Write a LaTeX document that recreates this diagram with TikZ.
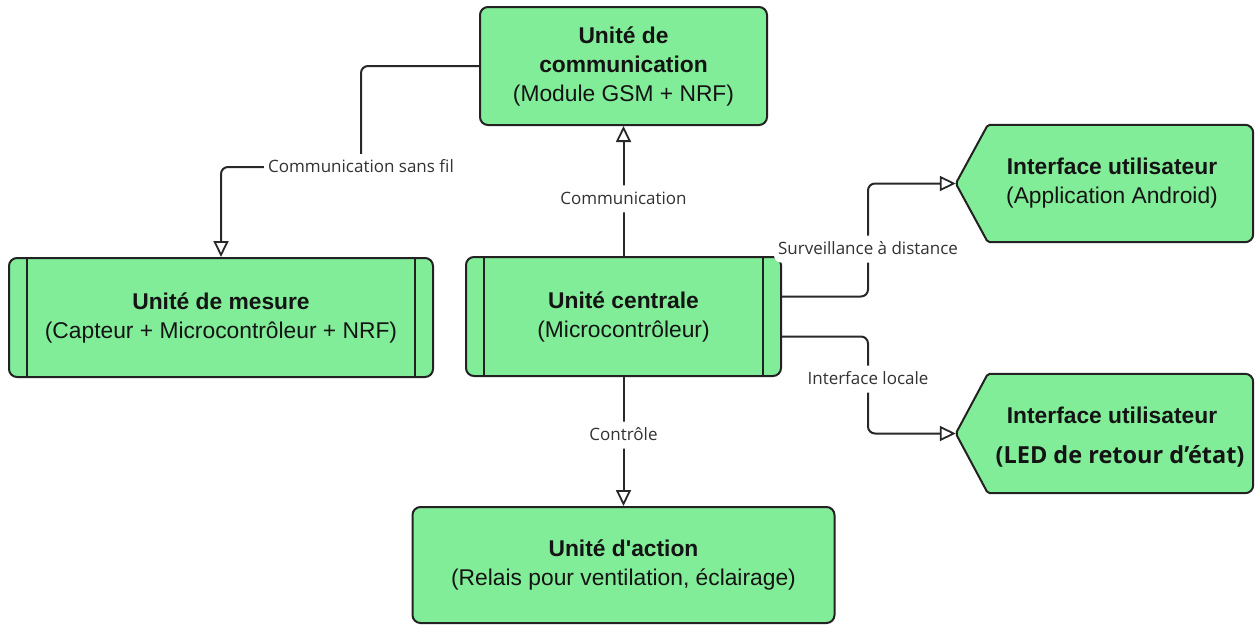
\documentclass[tikz,border=0pt]{standalone}
\usepackage{fontspec}
\setmainfont{Liberation Sans}
\newfontfamily\lblfont{Open Sans}
\newfontfamily\ledfont{Open Sans}
\usetikzlibrary{arrows.meta}

\definecolor{boxgreen}{RGB}{130,237,152}
\definecolor{edgeink}{RGB}{34,34,34}
\definecolor{wireink}{RGB}{40,40,40}
\definecolor{lblink}{RGB}{50,50,50}

\begin{document}
\begin{tikzpicture}[x=1pt,y=-1pt,
  unitbox/.style={draw=edgeink, line width=2pt, fill=boxgreen, rounded corners=8pt,
    align=center, font=\fontsize{22.8}{29}\selectfont, text=black!92, inner sep=0pt},
  ifaceframe/.style={draw=none, inner sep=0pt, minimum width=297pt},
  ifacetext/.style={align=center, font=\fontsize{22.8}{29}\selectfont,
    text=black!92, inner sep=0pt},
  ifaceshape/.style={draw=edgeink, line width=2pt, fill=boxgreen, line join=round},
  sidebar/.style={draw=edgeink, line width=1.6pt},
  wire/.style={draw=wireink, line width=2pt, rounded corners=7pt,
    -{Triangle[open, length=16pt, width=15pt, line width=1.8pt]}},
  plainwire/.style={draw=wireink, line width=2pt, rounded corners=7pt},
  lbl/.style={fill=white, font=\lblfont\fontsize{17}{20}\selectfont, text=lblink,
    inner xsep=4pt, inner ysep=7pt, text height=12pt, text depth=1pt}
]
\useasboundingbox (0,0) rectangle (1255,625);

% units
\node[unitbox, minimum width=287pt, minimum height=118pt] (comm) at (623.5,66)
  {\textbf{Unité de}\\\textbf{communication}\\(Module GSM + NRF)};
\node[unitbox, minimum width=424pt, minimum height=119pt] (mes) at (221,317.5)
  {\textbf{Unité de mesure}\\(Capteur + Microcontrôleur + NRF)};
\node[unitbox, minimum width=315pt, minimum height=119pt] (uc) at (623.5,316.5)
  {\textbf{Unité centrale}\\(Microcontrôleur)};
\node[unitbox, minimum width=422pt, minimum height=116pt] (act) at (623.5,565)
  {\textbf{Unité d\textquotesingle action}\\(Relais pour ventilation, éclairage)};

% side bars of the process boxes
\foreach \n in {mes,uc}{
  \draw[sidebar] ([xshift=19pt]\n.north west) -- ([xshift=19pt]\n.south west);
  \draw[sidebar] ([xshift=-19pt]\n.north east) -- ([xshift=-19pt]\n.south east);
}

% user interfaces (display shapes)
\node[ifaceframe, minimum height=117pt] (ui1) at (1104.5,183.5) {};
\node[ifaceframe, minimum height=119pt] (ui2) at (1104.5,433.5) {};
\foreach \n in {ui1,ui2}{
  \path[ifaceshape] (\n.west) [rounded corners=2pt] -- ([xshift=32pt]\n.north west)
    [rounded corners=8pt] -- (\n.north east) -- (\n.south east)
    [rounded corners=2pt] -- ([xshift=32pt]\n.south west) -- cycle;
}
\node[ifacetext] (ui1t) at ([xshift=7.5pt]ui1.center)
  {\textbf{Interface utilisateur}\\(Application Android)};
\node[ifacetext] (ui2t) at ([xshift=0pt,yshift=-4pt]ui2.center)
  {\hspace*{15pt}\textbf{Interface utilisateur}\\[11pt]\hspace*{31pt}{\ledfont\bfseries\fontsize{23.5}{29}\selectfont(LED de retour d’état)}};

% connectors
\coordinate (wbend) at (361,167);
\draw[plainwire] (comm.west) -| (wbend);
\draw[wire] (wbend) -| (mes.north);
\node[lbl] (lwl) at (wbend) {Communication sans fil};

\draw[wire] (uc.north) -- node[lbl, pos=0.44] (lcom) {Communication} (comm.south);
\draw[wire] (uc.south) -- node[lbl, pos=0.45] (lctl) {Contrôle} (act.north);

\draw[wire] ([yshift=20pt]uc.east) -- ++(86pt,0)
  |- node[lbl, pos=0.21] (lsur) {Surveillance à distance} (ui1.west);
\draw[wire] ([yshift=-20pt]uc.east) -- ++(86pt,0)
  |- node[lbl, pos=0.22] (lloc) {Interface locale} (ui2.west);
\end{tikzpicture}
\end{document}
